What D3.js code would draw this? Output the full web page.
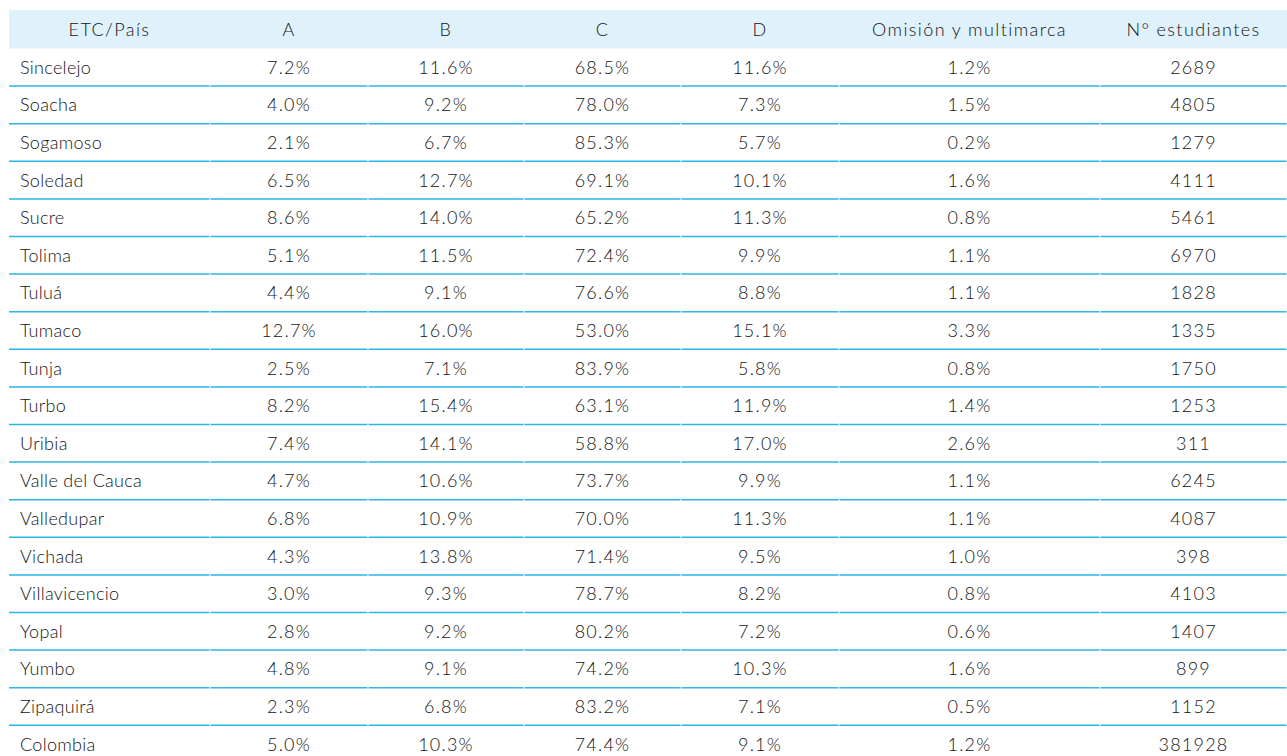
<!DOCTYPE html>
<html>
<head>
<meta charset="utf-8">
<script src="https://cdn.jsdelivr.net/npm/d3@7"></script>
<style>
  body { margin: 0; background: #fff; }
  svg text { font-family: "Lato", "DejaVu Sans", sans-serif; fill: #141414; font-weight: 300; }
</style>
</head>
<body>
<svg id="drawing_region"></svg>
<script>
const headers = ["ETC/País", "A", "B", "C", "D", "Omisión y multimarca", "N° estudiantes"];
const etc = ["Sincelejo", "Soacha", "Sogamoso", "Soledad", "Sucre", "Tolima", "Tuluá", "Tumaco", "Tunja", "Turbo",
  "Uribia", "Valle del Cauca", "Valledupar", "Vichada", "Villavicencio", "Yopal", "Yumbo", "Zipaquirá", "Colombia"];
const optA = [7.2, 4.0, 2.1, 6.5, 8.6, 5.1, 4.4, 12.7, 2.5, 8.2, 7.4, 4.7, 6.8, 4.3, 3.0, 2.8, 4.8, 2.3, 5.0];
const optB = [11.6, 9.2, 6.7, 12.7, 14.0, 11.5, 9.1, 16.0, 7.1, 15.4, 14.1, 10.6, 10.9, 13.8, 9.3, 9.2, 9.1, 6.8, 10.3];
const optC = [68.5, 78.0, 85.3, 69.1, 65.2, 72.4, 76.6, 53.0, 83.9, 63.1, 58.8, 73.7, 70.0, 71.4, 78.7, 80.2, 74.2, 83.2, 74.4];
const optD = [11.6, 7.3, 5.7, 10.1, 11.3, 9.9, 8.8, 15.1, 5.8, 11.9, 17.0, 9.9, 11.3, 9.5, 8.2, 7.2, 10.3, 7.1, 9.1];
const omision = [1.2, 1.5, 0.2, 1.6, 0.8, 1.1, 1.1, 3.3, 0.8, 1.4, 2.6, 1.1, 1.1, 1.0, 0.8, 0.6, 1.6, 0.5, 1.2];
const estudiantes = [2689, 4805, 1279, 4111, 5461, 6970, 1828, 1335, 1750, 1253, 311, 6245, 4087, 398, 4103, 1407, 899, 1152, 381928];

const config = {
    width: 1287,
    height: 756,
    left: 9,
    top: 10,
    headerHeight: 38.5,
    rowHeight: 37.6,
    colEdges: [9, 210, 368, 524, 681, 839, 1100, 1287],
    fontSize: 18
};

const pct = d3.format(".1f");
const rows = etc.map((name, i) => [
    name,
    pct(optA[i]) + "%",
    pct(optB[i]) + "%",
    pct(optC[i]) + "%",
    pct(optD[i]) + "%",
    pct(omision[i]) + "%",
    String(estudiantes[i])
]);

const svg = d3.select("#drawing_region")
    .attr("width", config.width)
    .attr("height", config.height);

const yscale = d3.scaleBand()
    .domain(d3.range(rows.length))
    .range([config.top + config.headerHeight, config.top + config.headerHeight + config.rowHeight * rows.length]);

const colStart = i => config.colEdges[i];
const colCenter = i => (config.colEdges[i] + config.colEdges[i + 1]) / 2;

// header band
svg.append("rect")
    .attr("x", config.left)
    .attr("y", config.top)
    .attr("width", config.width - config.left)
    .attr("height", config.headerHeight)
    .attr("fill", "#dff1fb");

svg.append("g").selectAll("text")
    .data(headers)
    .join("text")
    .attr("x", (d, i) => colCenter(i))
    .attr("y", config.top + config.headerHeight / 2)
    .attr("dy", "0.36em")
    .attr("text-anchor", "middle")
    .attr("font-size", config.fontSize)
    .attr("letter-spacing", 1.4)
    .text(d => d);

// separators below each row (not after the last one)
const lines = svg.append("g");
d3.range(rows.length - 1).forEach(r => {
    lines.selectAll(null)
        .data(d3.range(headers.length))
        .join("line")
        .attr("x1", c => colStart(c) + (c === 0 ? 0 : 0.5))
        .attr("x2", c => config.colEdges[c + 1] - 0.5)
        .attr("y1", yscale(r) + yscale.bandwidth())
        .attr("y2", yscale(r) + yscale.bandwidth())
        .attr("stroke", "#29b6e6")
        .attr("stroke-width", 1.5);
});

const rowG = svg.append("g").selectAll("g")
    .data(rows)
    .join("g")
    .attr("transform", (d, i) => `translate(0, ${yscale(i) + yscale.bandwidth() / 2})`);

rowG.selectAll("text")
    .data(d => d)
    .join("text")
    .attr("x", (d, i) => i === 0 ? colStart(i) + 11 : colCenter(i))
    .attr("dy", "0.36em")
    .attr("text-anchor", (d, i) => i === 0 ? "start" : "middle")
    .attr("font-size", config.fontSize)
    .attr("letter-spacing", (d, i) => i === 0 ? 0.3 : 1.2)
    .text(d => d);
</script>
</body>
</html>
